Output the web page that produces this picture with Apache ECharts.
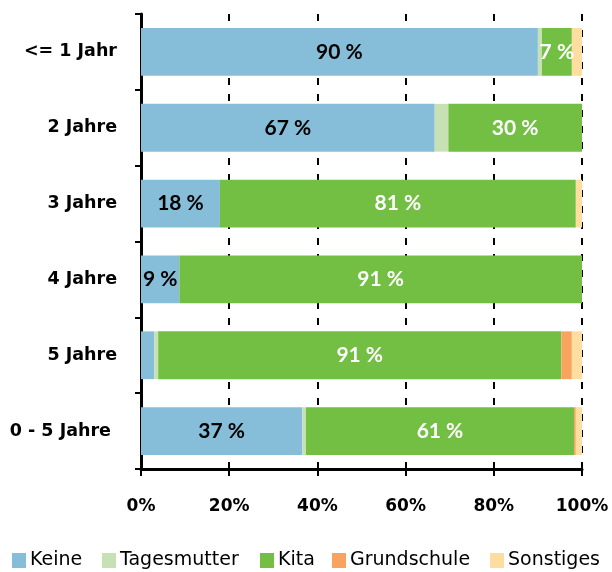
<!DOCTYPE html>
<html><head><meta charset="utf-8">
<script src="https://cdn.jsdelivr.net/npm/echarts@6/dist/echarts.min.js"></script>
<style>html,body{margin:0;padding:0;background:#fff}#c{width:612px;height:572px}</style>
</head><body><div id="c"></div>
<script>
var categories = ['<= 1 Jahr', '2 Jahre', '3 Jahre', '4 Jahre', '5 Jahre', '0 - 5 Jahre '];
var seriesNames = ['Keine', 'Tagesmutter', 'Kita', 'Grundschule', 'Sonstiges'];
var keine       = [90.0, 66.6, 17.9, 8.7, 3.0, 36.6];
var tagesmutter = [0.9, 3.1, 0, 0, 0.9, 0.8];
var kita        = [6.8, 30.3, 80.7, 91.3, 91.4, 60.8];
var grundschule = [0, 0, 0, 0, 2.4, 0.4];
var sonstiges   = [2.3, 0, 1.4, 0, 2.3, 1.4];
var xTicks = ['0%', '20%', '40%', '60%', '80%', '100%'];

var AXFONT = 'DejaVu Sans';
var LBFONT = 'Lato';
var colors = ['#86BED9', '#C7E1B4', '#73BF43', '#F8A45F', '#FEDEA0'];
var labelColors = ['#000', null, '#fff', null, null];
var datas = [keine, tagesmutter, kita, grundschule, sonstiges];
var legendLeft = [12, 102, 260, 332, 490];

var series = seriesNames.map(function (name, i) {
  return {
    name: name, type: 'bar', stack: 'a', data: datas[i], barWidth: '63%',
    itemStyle: { color: colors[i] },
    label: {
      show: !!labelColors[i], position: 'inside', color: labelColors[i] || '#000',
      fontFamily: LBFONT, fontWeight: 'bold', fontSize: 21,
      formatter: function (p) { return p.value >= 5 ? Math.round(p.value) + ' %' : ''; }
    },
    emphasis: { disabled: true }
  };
});
var legends = seriesNames.map(function (name, i) {
  return {
    show: true, left: legendLeft[i], top: 551, padding: 0,
    itemWidth: 14, itemHeight: 15, itemGap: 0, icon: 'rect', selectedMode: false,
    textStyle: { fontFamily: AXFONT, fontSize: 19, color: '#000', padding: [0, 0, 0, -1] },
    data: [name]
  };
});

var chart = echarts.init(document.getElementById('c'), null, { renderer: 'canvas' });
chart.setOption({
  animation: false,
  grid: { left: 141, right: 30, top: 14, bottom: 103, containLabel: false },
  xAxis: {
    type: 'value', min: 0, max: 100, interval: 20,
    axisLine: { show: true, lineStyle: { color: '#000', width: 3 } },
    axisTick: { show: true, length: 7, lineStyle: { color: '#000', width: 2 } },
    splitLine: { show: true, lineStyle: { color: '#000', width: 2, type: [7, 9] } },
    axisLabel: {
      margin: 29, color: '#000', fontFamily: AXFONT, fontWeight: 'bold', fontSize: 17,
      formatter: function (v) { return xTicks[Math.round(v / 20)]; }
    }
  },
  yAxis: {
    type: 'category', inverse: true, data: categories,
    axisLine: { show: true, lineStyle: { color: '#000', width: 3 } },
    axisTick: { show: true, length: 6, lineStyle: { color: '#000', width: 2 } },
    axisLabel: { margin: 24, color: '#000', fontFamily: AXFONT, fontWeight: 'bold', fontSize: 17.5 }
  },
  legend: legends,
  series: series
});
</script></body></html>
